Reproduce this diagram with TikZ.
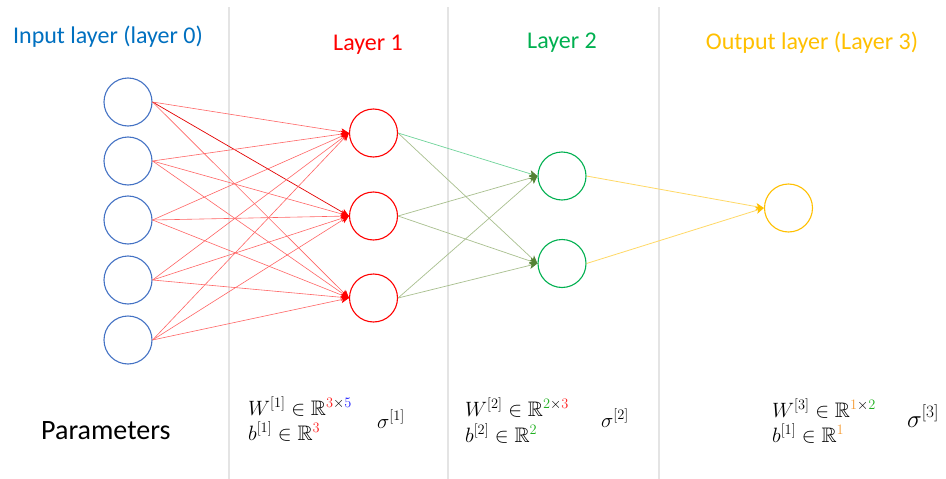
\documentclass[tikz,border=0pt]{standalone}
\usepackage{fontspec}
\setmainfont{Carlito}
\usepackage{amssymb}
\usetikzlibrary{arrows.meta}
\definecolor{inblue}{HTML}{4472C4}
\definecolor{titleblue}{HTML}{0070C0}
\definecolor{lred}{HTML}{FF0000}
\definecolor{lgreen}{HTML}{00B050}
\definecolor{lyellow}{HTML}{FFC000}
\definecolor{olivetip}{HTML}{548235}
\definecolor{oliveline}{HTML}{A9C08F}
\definecolor{mintline}{HTML}{6FD49A}
\definecolor{yline}{HTML}{FFD966}
\definecolor{sepgray}{HTML}{E4E4E4}
\definecolor{mred}{HTML}{FF2020}
\definecolor{mblue}{HTML}{2020FF}
\definecolor{mgreen}{HTML}{20B020}
\definecolor{morange}{HTML}{F59A30}
\begin{document}
\begin{tikzpicture}[x=1pt,y=-1pt,
  neuron/.style={circle,draw,line width=1.1pt,minimum size=48pt,inner sep=0pt},
  tipA/.style={-{Stealth[length=8pt,width=7pt,inset=2pt,color=lred]}},
  e1/.style={draw=lred!60,line width=0.6pt,tipA},
  e1d/.style={draw=lred!90!black,line width=0.7pt,tipA},
  tipB/.style={-{Stealth[length=8pt,width=7pt,inset=2pt,color=olivetip]}},
  e2/.style={draw=oliveline,line width=0.7pt,tipB},
  e2m/.style={draw=mintline,line width=0.7pt,tipB},
  e3/.style={draw=yline,line width=0.8pt,-{Stealth[length=8pt,width=7pt,inset=2pt,color=lyellow]}},
  sep/.style={draw=sepgray,line width=2.2pt},
  title/.style={font=\fontsize{24}{28}\selectfont,inner sep=0pt},
  mathlbl/.style={font=\fontsize{21}{24}\selectfont,inner sep=0pt,anchor=base west},
]
\useasboundingbox (0,0) rectangle (946,479);
\fill[white] (0,0) rectangle (946,479);

% separators
\draw[sep] (229,7) -- (229,479);
\draw[sep] (448,7) -- (448,479);
\draw[sep] (659,7) -- (659,479);

% titles
\node[title,text=titleblue] (t0) at (108,37) {Input layer (layer 0)};
\node[title,text=lred] (t1) at (368,45) {Layer 1};
\node[title,text=lgreen] (t2) at (562,43) {Layer 2};
\node[title,text=lyellow] (t3) at (812,43) {Output layer (Layer 3)};

% neurons
\foreach \i/\y in {1/102,2/161,3/220,4/280,5/340}
  \node[neuron,draw=inblue] (i\i) at (128,\y) {};
\foreach \i/\y in {1/133,2/216,3/298}
  \node[neuron,draw=lred] (h\i) at (373.5,\y) {};
\foreach \i/\y in {1/176,2/263.5}
  \node[neuron,draw=lgreen] (g\i) at (562,\y) {};
\node[neuron,draw=lyellow] (o1) at (788.5,208) {};

% edges layer 0 -> 1
\foreach \a in {1,...,5}
  \foreach \b in {1,2,3}{
    \ifnum\a=1 \ifnum\b=2 \def\st{e1d}\else\def\st{e1}\fi\else\def\st{e1}\fi
    \draw[\st] (i\a.east) -- (h\b.west);
  }
% edges layer 1 -> 2
\draw[e2m] (h1.east) -- (g1.west);
\draw[e2] (h1.east) -- (g2.west);
\draw[e2] (h2.east) -- (g1.west);
\draw[e2] (h2.east) -- (g2.west);
\draw[e2] (h3.east) -- (g1.west);
\draw[e2] (h3.east) -- (g2.west);
% edges layer 2 -> 3
\draw[e3] (g1.east) -- (o1.west);
\draw[e3] (g2.east) -- (o1.west);

% parameters
\node[font=\fontsize{28}{32}\selectfont,inner sep=0pt,anchor=base west] (par) at (41,439) {Parameters};

\node[mathlbl] (w1) at (248,415) {$W^{[1]}\in\mathbb{R}^{{\color{mred}3}\times{\color{mblue}5}}$};
\node[mathlbl] (b1) at (248,440) {$b^{[1]}\in\mathbb{R}^{\color{mred}3}$};
\node[mathlbl] (s1) at (377,428) {$\sigma^{[1]}$};

\node[mathlbl] (w2) at (465,416) {$W^{[2]}\in\mathbb{R}^{{\color{mgreen}2}\times{\color{mred}3}}$};
\node[mathlbl] (b2) at (465,442) {$b^{[2]}\in\mathbb{R}^{\color{mgreen}2}$};
\node[mathlbl] (s2) at (601,427) {$\sigma^{[2]}$};

\node[mathlbl] (w3) at (772,417) {$W^{[3]}\in\mathbb{R}^{{\color{morange}1}\times{\color{mgreen}2}}$};
\node[mathlbl] (b3) at (772,442) {$b^{[1]}\in\mathbb{R}^{\color{morange}1}$};
\node[mathlbl,font=\fontsize{27}{30}\selectfont] (s3) at (907,427) {$\sigma^{[3]}$};
\end{tikzpicture}
\end{document}
